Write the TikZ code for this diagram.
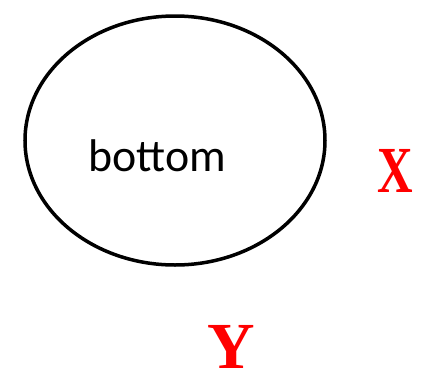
\documentclass[tikz,border=0pt]{standalone}
\usepackage{fontspec}
\setmainfont{Liberation Serif}
\newfontfamily\calib{Carlito}
\begin{document}
\begin{tikzpicture}[x=1bp,y=-1bp,
  lbl/.style={inner sep=0pt, text=red, text depth=0pt, font=\fontsize{66}{66}\selectfont\bfseries}]
\useasboundingbox[fill=white] (0,0) rectangle (424,376);
\draw[line width=3.5bp] (175,140.5) ellipse [x radius=150, y radius=124.5];
\node[inner sep=0pt, anchor=base, font=\calib\fontsize{46}{46}\selectfont] (b) at (157.5,171) {bottom};
\node[lbl, anchor=base, xscale=0.75] (x) at (395.5,192) {X};
\node[lbl, anchor=base] (y) at (231,368) {Y};
\end{tikzpicture}
\end{document}
